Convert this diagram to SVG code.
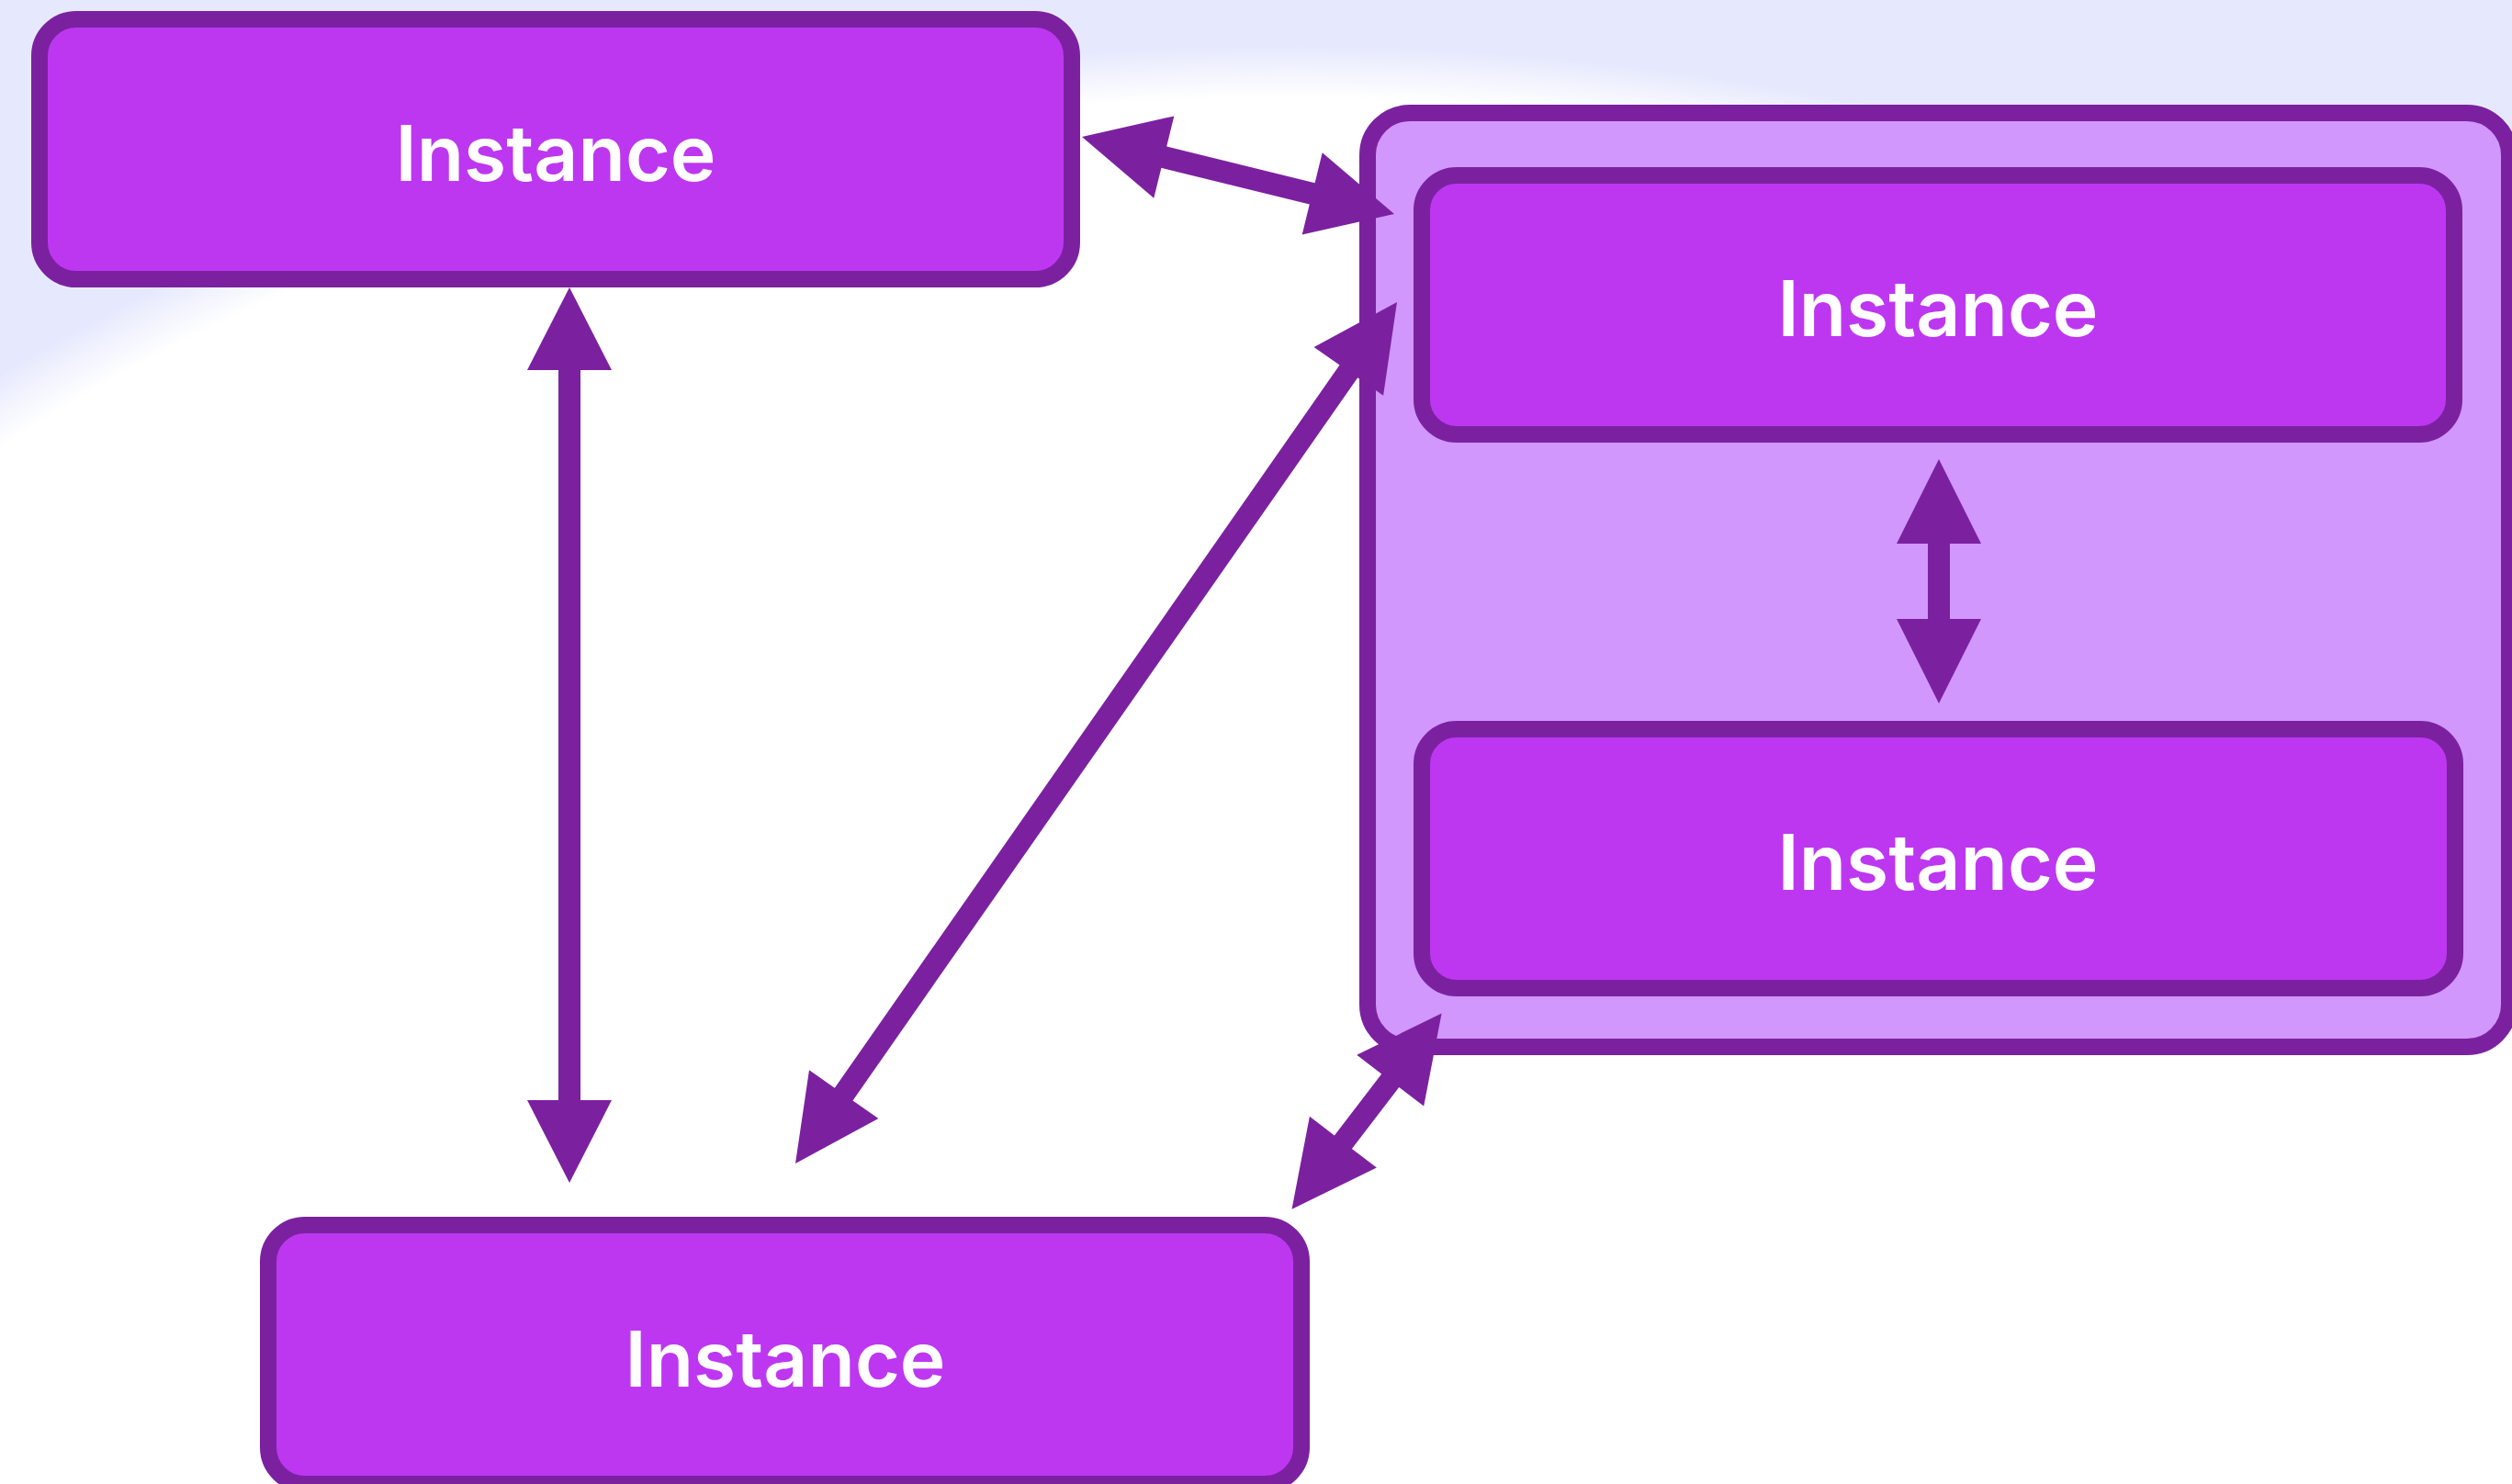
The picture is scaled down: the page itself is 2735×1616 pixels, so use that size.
<svg xmlns="http://www.w3.org/2000/svg" width="2735" height="1616" viewBox="0 0 2735 1616">
  <defs>
    <radialGradient id="bg" gradientUnits="userSpaceOnUse" cx="1400" cy="1300" r="2000" gradientTransform="translate(0 1300) scale(1 0.625) translate(0 -1300)">
      <stop offset="0" stop-color="#FFFFFF"/>
      <stop offset="0.955" stop-color="#FFFFFF"/>
      <stop offset="1" stop-color="#E6E9FD"/>
    </radialGradient>
    <style>
      .node { fill: #BD37F1; stroke: #7B21A0; stroke-width: 18; }
      .group { fill: #D197FD; stroke: #7B21A0; stroke-width: 18; }
      .label { fill: #FFFFFF; font-family: Inter, "Liberation Sans", sans-serif; font-size: 84px; font-weight: 600; text-anchor: middle; }
      .conn { fill: #7B21A0; stroke: none; }
    </style>
  </defs>

  <rect x="0" y="0" width="2735" height="1616" fill="#E6E9FD"/>
  <rect x="0" y="0" width="2735" height="1616" fill="url(#bg)"/>

  <g id="container">
    <rect class="group" x="1489" y="123" width="1243" height="1017" rx="46" ry="46"/>
  </g>

  <g id="node-inner-top">
    <rect class="node" x="1548" y="191" width="1124" height="282" rx="38" ry="38"/>
    <text class="label" x="2110" y="366">Instance</text>
  </g>

  <g id="node-inner-bottom">
    <rect class="node" x="1548" y="794" width="1125" height="282" rx="38" ry="38"/>
    <text class="label" x="2110" y="969">Instance</text>
  </g>

  <g id="node-top-left">
    <rect class="node" x="43" y="21" width="1124" height="283" rx="40" ry="40"/>
    <text class="label" x="605" y="197">Instance</text>
  </g>

  <g id="node-bottom-left">
    <rect class="node" x="292" y="1334" width="1125" height="282" rx="40" ry="40"/>
    <text class="label" x="855" y="1510">Instance</text>
  </g>

  <g id="connectors">
    <polygon class="conn" points="620,313 666,403 632,403 632,1198 666,1198 620,1288 574,1198 608,1198 608,403 574,403"/>
    <polygon class="conn" points="2111,500 2157,592 2123,592 2123,674 2157,674 2111,766 2065,674 2099,674 2099,592 2065,592"/>
    <polygon class="conn" points="1178,149 1256.3,215.8 1264.4,182.8 1425.8,222.6 1417.7,255.6 1518,233 1439.7,166.2 1431.6,199.3 1270.2,159.5 1278.3,126.4"/>
    <polygon class="conn" points="866,1267 956.4,1217.9 928.5,1198.4 1478.2,411.3 1506.1,430.8 1521,329 1430.6,378.1 1458.5,397.6 908.8,1184.7 881,1165.2"/>
    <polygon class="conn" points="1406.5,1316.7 1498.9,1271.6 1471.9,1250.9 1523.2,1183.9 1550.2,1204.6 1569.6,1103.6 1477.2,1148.7 1504.2,1169.4 1452.9,1236.4 1425.9,1215.7"/>
  </g>
</svg>
